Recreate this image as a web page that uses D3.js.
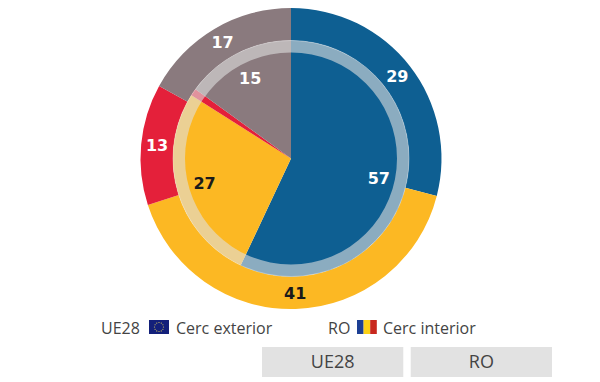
<!DOCTYPE html>
<html>
<head>
<meta charset="utf-8">
<script src="https://cdn.jsdelivr.net/npm/d3@7"></script>
<style>
body { margin: 0; background: #fff; }
svg { display: block; }
text { font-family: "Open Sans", sans-serif; }
</style>
</head>
<body>
<div id="chartContainer"></div>
<script>
const width = 600;
const height = 382;

const categories = ["albastru", "galben", "rosu", "gri"];
const outerValues = [29, 41, 13, 17]; // UE28
const innerValues = [57, 27, 1, 15]; // RO
const colors = ["#0e5f92", "#fcb823", "#e4203a", "#8a7a7e"];
const labelColors = ["#fff", "#1a1a1a", "#fff", "#fff"];
const buttonLabels = ["UE28", "RO"];

const cx = 291;
const cy = 158.5;

const svg = d3.select("#chartContainer")
    .append("svg")
    .attr("width", width)
    .attr("height", height);

const pie = d3.pie().sort(null).value(d => d);
const color = d3.scaleOrdinal().domain(categories).range(colors);

const chart = svg.append("g").attr("transform", `translate(${cx},${cy})`);

const outerArc = d3.arc().innerRadius(118).outerRadius(150.5);
const innerArc = d3.arc().innerRadius(0).outerRadius(118);

chart.selectAll(".outer")
    .data(pie(outerValues))
    .enter()
    .append("path")
    .attr("class", "outer")
    .attr("d", outerArc)
    .attr("fill", (d, i) => color(categories[i]));

chart.selectAll(".inner")
    .data(pie(innerValues))
    .enter()
    .append("path")
    .attr("class", "inner")
    .attr("d", innerArc)
    .attr("fill", (d, i) => color(categories[i]));

// white line between the two rings
chart.append("circle")
    .attr("r", 118)
    .attr("fill", "none")
    .attr("stroke", "#fff")
    .attr("stroke-opacity", 0.35)
    .attr("stroke-width", 1);

// translucent band on top of the inner pie
chart.append("path")
    .attr("d", d3.arc().innerRadius(106).outerRadius(118).startAngle(0).endAngle(2 * Math.PI)())
    .attr("fill", "#e0e0e0")
    .attr("fill-opacity", 0.6);

const outerLabelArc = d3.arc().innerRadius(134.5).outerRadius(134.5);
const innerLabelArc = d3.arc().innerRadius(90).outerRadius(90);

function addLabels(data, arc) {
    chart.selectAll(null)
        .data(data)
        .enter()
        .append("text")
        .attr("transform", d => `translate(${arc.centroid(d)})`)
        .attr("dy", ".35em")
        .attr("text-anchor", "middle")
        .style("font-family", "'DejaVu Sans', sans-serif")
        .style("font-size", "16px")
        .style("font-weight", "bold")
        .attr("fill", d => labelColors[d.index])
        .text(d => d.value);
}

addLabels(pie(outerValues), outerLabelArc);
// the 1 % slice has no label in the picture
addLabels(pie(innerValues).filter(d => d.value > 1), innerLabelArc);

// legend
const legendStyle = sel => sel
    .attr("y", 334)
    .attr("fill", "#444")
    .style("font-size", "16px");

svg.append("text").attr("x", 101).call(legendStyle).text("UE28");
svg.append("text").attr("x", 176).call(legendStyle).text("Cerc exterior");
svg.append("text").attr("x", 328).call(legendStyle).text("RO");
svg.append("text").attr("x", 383).call(legendStyle).text("Cerc interior");

// EU flag
svg.append("rect")
    .attr("x", 149).attr("y", 320).attr("width", 20).attr("height", 14)
    .attr("fill", "#13207a");
d3.range(12).forEach(i => {
    const a = i / 12 * 2 * Math.PI;
    svg.append("circle")
        .attr("cx", 159 + 4.5 * Math.cos(a))
        .attr("cy", 327 + 4.5 * Math.sin(a))
        .attr("r", 0.6)
        .attr("fill", "#d8c860");
});

// RO flag
["#1c3f94", "#fbd116", "#c8281e"].forEach((c, i) => {
    svg.append("rect")
        .attr("x", 357 + i * 6.6).attr("y", 320).attr("width", 6.6).attr("height", 14)
        .attr("fill", c);
});

// buttons
const buttonX = d3.scaleBand().domain(buttonLabels).range([262, 552]).paddingInner(0.05);

const buttons = svg.selectAll(".button")
    .data(buttonLabels)
    .enter()
    .append("g")
    .attr("class", "button")
    .attr("transform", d => `translate(${buttonX(d)},347)`);

buttons.append("rect")
    .attr("width", buttonX.bandwidth())
    .attr("height", 30)
    .attr("fill", "#e2e2e2");

buttons.append("text")
    .attr("x", buttonX.bandwidth() / 2)
    .attr("y", 15)
    .attr("dy", ".35em")
    .attr("text-anchor", "middle")
    .attr("fill", "#444")
    .style("font-size", "18px")
    .text(d => d);
</script>
</body>
</html>
